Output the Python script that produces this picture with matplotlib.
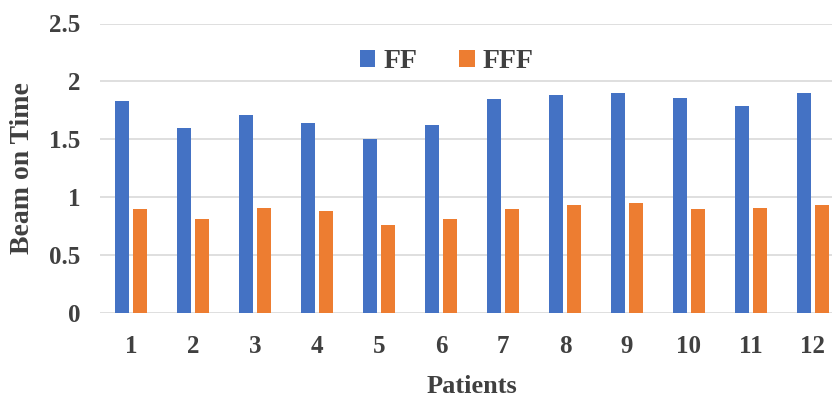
import numpy as np
import matplotlib
matplotlib.use("Agg")
import matplotlib.pyplot as plt

# Beam-on time per patient, flattening filter vs flattening-filter-free
patients = ["1", "2", "3", "4", "5", "6", "7", "8", "9", "10", "11", "12"]
ff = [1.83, 1.60, 1.71, 1.64, 1.50, 1.62, 1.85, 1.88, 1.90, 1.86, 1.79, 1.90]
fff = [0.90, 0.81, 0.91, 0.88, 0.76, 0.81, 0.90, 0.93, 0.95, 0.90, 0.91, 0.93]

plt.rcParams["font.family"] = ["Liberation Serif", "DejaVu Serif"]
plt.rcParams["font.weight"] = "bold"
text_col = "#404040"

fig = plt.figure(figsize=(8.32, 3.98), dpi=100)
# axes runs off the right edge of the figure on purpose
ax = fig.add_axes([100 / 832, 85 / 398, 744 / 832, 289.5 / 398])

x = np.arange(len(patients))
w = 0.22
off = 0.145
ax.bar(x - off, ff, w, color="#4472C4", label="FF", zorder=3)
ax.bar(x + off, fff, w, color="#ED7D31", label="FFF", zorder=3)

ax.set_xlim(-0.5, len(patients) - 0.5)
ax.set_ylim(0, 2.5)
ax.set_yticks([0, 0.5, 1, 1.5, 2, 2.5])
ax.set_yticklabels(["0", "0.5", "1", "1.5", "2", "2.5"])
ax.set_xticks(x)
ax.set_xticklabels(patients)
ax.yaxis.grid(True, color="#d9d9d9", linewidth=1.2, zorder=0)
for s in ax.spines.values():
    s.set_visible(False)
ax.tick_params(axis="both", length=0, labelsize=18, colors=text_col)
ax.tick_params(axis="y", pad=14)
ax.tick_params(axis="x", pad=16)

ax.set_xlabel("Patients", fontsize=19, fontweight="bold", color=text_col,
              labelpad=12)
ax.set_ylabel("Beam on Time", fontsize=20, fontweight="bold", color=text_col,
              labelpad=10)

fig.legend(loc="center", bbox_to_anchor=(447 / 832, 1 - 62 / 398), ncol=2,
           frameon=False, fontsize=20, handlelength=0.55, handleheight=0.55,
           handletextpad=0.3, columnspacing=1.5, labelcolor=text_col)

fig.savefig("out.png", dpi=100)
